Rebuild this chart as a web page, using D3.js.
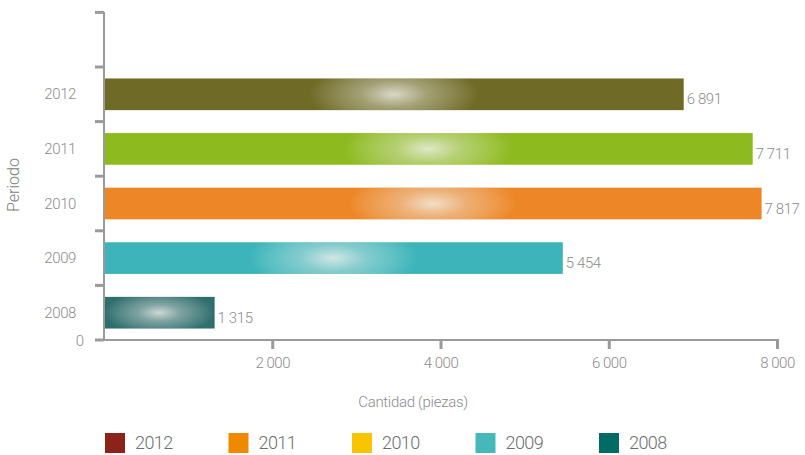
<!DOCTYPE html>
<html>
<head>
<meta charset="utf-8">
<script src="https://cdn.jsdelivr.net/npm/d3@7"></script>
<style>
  body { margin: 0; background: #fff; }
  text { font-family: Roboto, "Liberation Sans", sans-serif; font-weight: 300; fill: #8c8c8c; }
</style>
</head>
<body>
<svg id="chart" width="805" height="455"></svg>
<script>
// data
const periods = ["2012", "2011", "2010", "2009", "2008"];
const quantities = [6891, 7711, 7817, 5454, 1315];
const barColors = ["#6f6a25", "#8dba1f", "#ec8626", "#3cb4b9", "#2f6e6d"];
const xTicks = [2000, 4000, 6000, 8000];
const legendYears = ["2012", "2011", "2010", "2009", "2008"];
const legendColors = ["#8c231b", "#ef8a00", "#f9c500", "#45b9b9", "#006c65"];

const svg = d3.select("#chart");

// "6 891" style numbers
const fmt = d3.formatLocale({ decimal: ",", thousands: " ", grouping: [3], currency: ["", ""] }).format(",d");

const x = d3.scaleLinear().domain([0, 8000]).range([104, 777]);
const y = d3.scaleBand()
    .domain(periods)
    .range([67, 340])
    .paddingInner(0.42)
    .paddingOuter(0.21);

const axisColor = "#9a9a9a";

// gradients: a soft white glow in the middle of each bar
const defs = svg.append("defs");
periods.forEach((p, i) => {
    const x0 = x(0), x1 = x(quantities[i]);
    const cx = (x0 + x1) / 2, cy = y(p) + y.bandwidth() / 2;
    const g = defs.append("radialGradient")
        .attr("id", "glow" + i)
        .attr("gradientUnits", "userSpaceOnUse")
        .attr("cx", cx).attr("cy", cy)
        .attr("r", Math.min(85, (x1 - x0) * 0.5))
        .attr("gradientTransform", `translate(${cx},${cy}) scale(1,0.4) translate(${-cx},${-cy})`);
    g.append("stop").attr("offset", "0%").attr("stop-color", "#f4f4f0").attr("stop-opacity", 0.8);
    g.append("stop").attr("offset", "40%").attr("stop-color", "#eeeeea").attr("stop-opacity", 0.4);
    g.append("stop").attr("offset", "100%").attr("stop-color", "#fff").attr("stop-opacity", 0);
});

// bars
const bars = svg.append("g").selectAll("g")
    .data(periods)
    .join("g");

bars.append("rect")
    .attr("x", x(0))
    .attr("y", d => y(d))
    .attr("width", (d, i) => x(quantities[i]) - x(0))
    .attr("height", y.bandwidth())
    .attr("fill", (d, i) => barColors[i]);

bars.append("rect")
    .attr("x", x(0))
    .attr("y", d => y(d))
    .attr("width", (d, i) => x(quantities[i]) - x(0))
    .attr("height", y.bandwidth())
    .attr("fill", (d, i) => `url(#glow${i})`);

// value labels
bars.append("text")
    .attr("x", (d, i) => x(quantities[i]) + 3)
    .attr("y", d => y(d) + y.bandwidth() / 2 + 10)
    .attr("font-size", 15)
    .attr("letter-spacing", -0.4)
    .text((d, i) => fmt(quantities[i]));

// y axis
const yAxis = svg.append("g");
yAxis.append("line")
    .attr("x1", x(0)).attr("x2", x(0))
    .attr("y1", 12).attr("y2", 340)
    .attr("stroke", axisColor).attr("stroke-width", 2);

const boundaries = d3.range(7).map(k => 340 - k * y.step());
yAxis.selectAll("line.tick")
    .data(boundaries)
    .join("line")
    .attr("class", "tick")
    .attr("x1", x(0) - 9).attr("x2", x(0))
    .attr("y1", d => d).attr("y2", d => d)
    .attr("stroke", axisColor).attr("stroke-width", 3);

yAxis.selectAll("text.cat")
    .data(periods)
    .join("text")
    .attr("class", "cat")
    .attr("x", 76)
    .attr("y", d => y(d) + y.bandwidth() / 2 + 5)
    .attr("text-anchor", "end")
    .attr("font-size", 15)
    .attr("letter-spacing", -0.4)
    .text(d => d);

yAxis.append("text")
    .attr("x", 84).attr("y", 346)
    .attr("text-anchor", "end")
    .attr("font-size", 15)
    .text("0");

svg.append("text")
    .attr("transform", "translate(19,185) rotate(-90)")
    .attr("text-anchor", "middle")
    .attr("font-size", 16)
    .style("fill", "#7c7c7c")
    .text("Periodo");

// x axis
const xAxis = svg.append("g").attr("transform", "translate(0,340)")
    .call(d3.axisBottom(x).tickValues(xTicks).tickSize(9).tickPadding(8).tickFormat(fmt));
xAxis.select(".domain").attr("stroke", axisColor).attr("stroke-width", 2)
    .attr("d", `M${x(0)},0H${x(8000) + 2}`);
xAxis.selectAll(".tick line").attr("stroke", axisColor).attr("stroke-width", 3);
xAxis.selectAll(".tick text")
    .attr("font-size", 15)
    .attr("letter-spacing", -0.5)
    .style("font-family", "Roboto, sans-serif")
    .style("font-weight", 300)
    .attr("fill", "#8c8c8c");

svg.append("text")
    .attr("x", 413).attr("y", 407)
    .attr("text-anchor", "middle")
    .attr("font-size", 15)
    .attr("letter-spacing", -0.3)
    .text("Cantidad (piezas)");

// legend
const legend = svg.append("g").selectAll("g")
    .data(legendYears)
    .join("g")
    .attr("transform", (d, i) => `translate(${105 + i * 123.5},433)`);

legend.append("rect")
    .attr("width", 20).attr("height", 20)
    .attr("fill", (d, i) => legendColors[i]);

legend.append("text")
    .attr("x", 30).attr("y", 16)
    .attr("font-size", 18)
    .attr("letter-spacing", -0.6)
    .style("fill", "#6e6e6e")
    .text(d => d);
</script>
</body>
</html>
